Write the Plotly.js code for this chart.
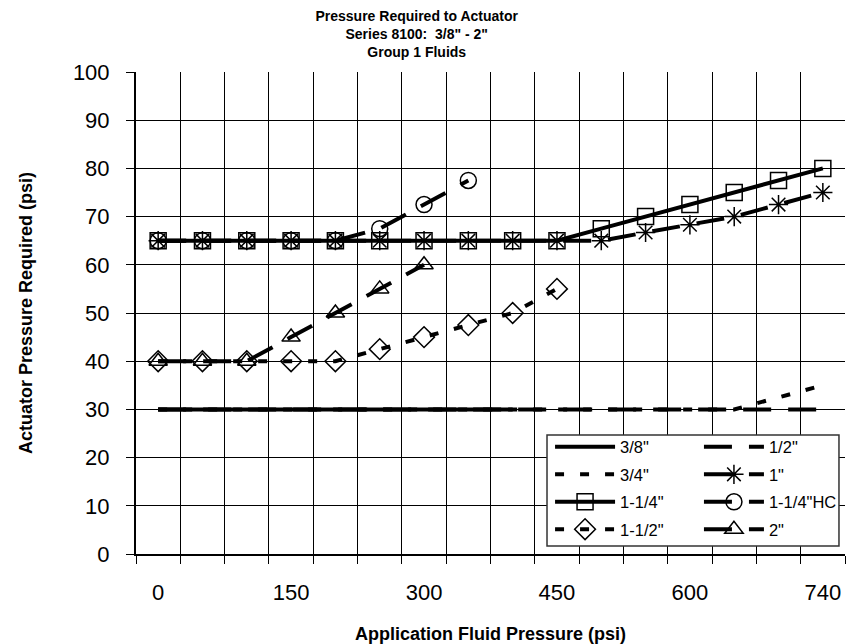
<!DOCTYPE html>
<html>
<head>
<meta charset="utf-8">
<script src="https://cdn.plot.ly/plotly-3.0.1.min.js"></script>
<style>
html,body{margin:0;padding:0;background:#fff;}
#chart{width:847px;height:644px;}
</style>
</head>
<body>
<div id="chart"></div>
<script>
// Categories of the x axis (application fluid pressure, psi)
const categories = ['0','50','100','150','200','250','300','350','400','450','500','550','600','650','700','740'];
const tickLabels = ['0','150','300','450','600','740'];

// Series values (actuator pressure required, psi), starting at category '0'
const s3_8   = [30,30,30,30,30,30,30,30,30];
const s1_2   = [30,30,30,30,30,30,30,30,30,30,30,30,30,30,30,30];
const s3_4   = [30,30,30,30,30,30,30,30,30,30,30,30,30,30,32.5,35];
const s1     = [65,65,65,65,65,65,65,65,65,65,65,66.7,68.3,70,72.5,75];
const s1_1_4 = [65,65,65,65,65,65,65,65,65,65,67.5,70,72.5,75,77.5,80];
const s1_1_4HC = [65,65,65,65,65,67.5,72.5,77.5];
const s1_1_2 = [40,40,40,40,40,42.5,45,47.5,50,55];
const s2     = [40,40,40,45,50,55,60];

const names = ['3/8"','1/2"','3/4"','1"','1-1/4"','1-1/4"HC','1-1/2"','2"'];

function xs(vals){ return categories.slice(0, vals.length).map(c => categories.indexOf(c)); }

const LONG = '28px,17px';
const SHORT = '9px,16px';
const LW = 4;
const mk = (sym) => ({symbol: sym, size: 16, color: '#000', line: {color: '#000', width: 1.5}});

const traces = [
  {name: names[0], y: s3_8, x: xs(s3_8), mode: 'lines', line: {color:'#000', width: LW, dash:'solid'}, legend: 'legend', legendgroup: 'a'},
  {name: names[1], y: s1_2, x: xs(s1_2), mode: 'lines', line: {color:'#000', width: LW, dash: LONG}, legend: 'legend2', legendgroup: 'b'},
  {name: names[2], y: s3_4, x: xs(s3_4), mode: 'lines', line: {color:'#000', width: LW, dash: SHORT}, legend: 'legend', legendgroup: 'c'},
  {name: names[3], y: s1, x: xs(s1), mode: 'lines+markers', line: {color:'#000', width: LW, dash: LONG}, marker: mk('asterisk-open'), legend: 'legend2', legendgroup: 'd'},
  {name: names[4], y: s1_1_4, x: xs(s1_1_4), mode: 'lines+markers', line: {color:'#000', width: LW, dash: 'solid'}, marker: mk('square-open'), legend: 'legend', legendgroup: 'e'},
  {name: names[5], y: s1_1_4HC, x: xs(s1_1_4HC), mode: 'lines+markers', line: {color:'#000', width: LW, dash: LONG}, marker: mk('circle-open'), legend: 'legend2', legendgroup: 'f'},
  {name: names[6], y: s1_1_2, x: xs(s1_1_2), mode: 'lines+markers', line: {color:'#000', width: LW, dash: SHORT}, marker: mk('diamond-open'), legend: 'legend', legendgroup: 'g'},
  {name: names[7], y: s2, x: xs(s2), mode: 'lines+markers', line: {color:'#000', width: LW, dash: LONG}, marker: mk('triangle-up-open'), legend: 'legend2', legendgroup: 'h'}
];
traces.forEach(t => { t.type = 'scatter'; });

const legendCommon = {
  xanchor: 'left', yanchor: 'top', yref: 'paper', xref: 'paper',
  bgcolor: 'rgba(0,0,0,0)', borderwidth: 0,
  font: {size: 16.5, color: '#000'},
  itemwidth: 60, tracegroupgap: 3, traceorder: 'grouped'
};

const layout = {
  width: 847, height: 644,
  margin: {l: 136, r: 2, t: 72, b: 90},
  paper_bgcolor: '#fff', plot_bgcolor: '#fff',
  font: {family: 'Liberation Sans, Arial, sans-serif', color: '#000'},
  showlegend: true,
  title: {
    text: 'Pressure Required to Actuator<br>Series 8100:  3/8" - 2"<br>Group 1 Fluids',
    font: {size: 14, weight: 'bold', color: '#000'},
    x: 0.492, xref: 'container', xanchor: 'center',
    y: 0.968, yref: 'container', yanchor: 'top'
  },
  xaxis: {
    range: [-0.5, categories.length - 0.5],
    tickmode: 'array',
    tickvals: tickLabels.map(l => categories.indexOf(l)),
    ticktext: tickLabels,
    ticks: '', showgrid: false, zeroline: false,
    showline: true, linecolor: '#000', linewidth: 2,
    tickfont: {size: 22, color: '#000'},
    ticklabelstandoff: 18,
    minor: {tickmode: 'linear', tick0: -0.5, dtick: 1, ticks: 'outside', ticklen: 8, tickcolor: '#000', tickwidth: 1,
            showgrid: true, gridcolor: '#000', gridwidth: 1},
    title: {text: 'Application Fluid Pressure (psi)', font: {size: 18, weight: 'bold', color: '#000'}, standoff: 24}
  },
  yaxis: {
    range: [0, 100], tickmode: 'linear', tick0: 0, dtick: 10,
    ticks: 'outside', ticklen: 8, tickcolor: '#000', tickwidth: 1,
    showgrid: true, gridcolor: '#000', gridwidth: 1,
    zeroline: false, showline: true, linecolor: '#000', linewidth: 2,
    tickfont: {size: 22, color: '#000'},
    ticklabelstandoff: 12,
    title: {text: 'Actuator Pressure Required (psi)', font: {size: 18, weight: 'bold', color: '#000'}, standoff: 36}
  },
  legend: Object.assign({x: 0.584, y: 0.258}, legendCommon),
  legend2: Object.assign({x: 0.794, y: 0.258}, legendCommon),
  shapes: [{
    type: 'rect', xref: 'paper', yref: 'paper',
    x0: 0.5797, x1: 0.9915, y0: 0.0166, y1: 0.2469,
    fillcolor: '#fff', line: {color: '#333', width: 1.5}, layer: 'above'
  }]
};

Plotly.newPlot('chart', traces, layout, {displayModeBar: false, staticPlot: true});
</script>
</body>
</html>
